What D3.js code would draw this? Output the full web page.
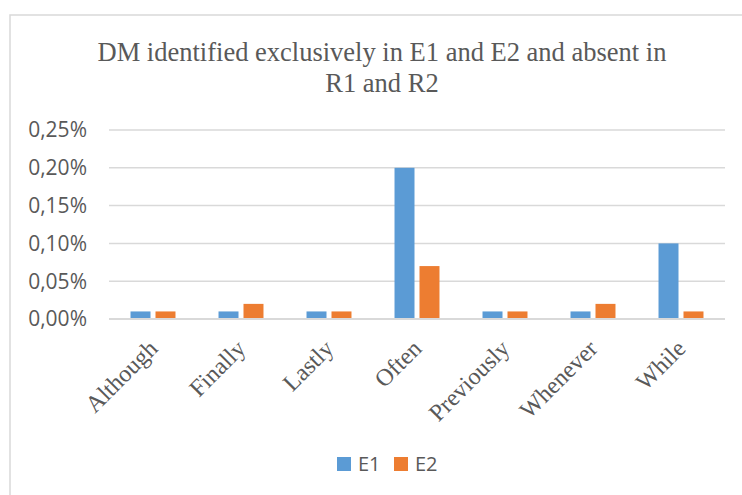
<!DOCTYPE html>
<html>
<head>
<meta charset="utf-8">
<script src="https://cdn.jsdelivr.net/npm/d3@7"></script>
<style>
  body { margin: 0; background: #fff; }
  svg { display: block; }
  .serif { font-family: "Liberation Serif", Tinos, "Times New Roman", Times, "DejaVu Serif", serif; }
  .sans { font-family: "Open Sans", "Liberation Sans", sans-serif; }
</style>
</head>
<body>
<svg id="chart" width="742" height="495"></svg>
<script>
// data (values in %)
const categories = ['Although', 'Finally', 'Lastly', 'Often', 'Previously', 'Whenever', 'While'];
const seriesNames = ['E1', 'E2'];
const valuesE1 = [0.01, 0.01, 0.01, 0.20, 0.01, 0.01, 0.10];
const valuesE2 = [0.01, 0.02, 0.01, 0.07, 0.01, 0.02, 0.01];
const yTicks = [0, 0.05, 0.10, 0.15, 0.20, 0.25];
const titleLines = ['DM identified exclusively in E1 and E2 and absent in', 'R1 and R2'];

const colors = { E1: '#5b9bd5', E2: '#ed7d31' };
const plot = { left: 109, right: 725, top: 130, bottom: 319 };

const svg = d3.select('#chart');

// outer chart frame (right edge runs off the page)
svg.append('rect')
  .attr('x', 10)
  .attr('y', 15)
  .attr('width', 760)
  .attr('height', 500)
  .attr('fill', '#fff')
  .attr('stroke', '#d9d9d9')
  .attr('stroke-width', 1.5);

// title
svg.append('text')
  .attr('class', 'serif')
  .attr('text-anchor', 'middle')
  .style('font-size', '26.5px')
  .attr('fill', '#595959')
  .selectAll('tspan')
  .data(titleLines)
  .enter()
    .append('tspan')
    .attr('x', 382)
    .attr('y', (d, i) => 61 + i * 31)
    .text(d => d);

// scales
const x = d3.scaleBand()
  .domain(categories)
  .range([plot.left, plot.right])
  .paddingInner(0.489)
  .paddingOuter(0.2445);

const xSeries = d3.scaleBand()
  .domain(seriesNames)
  .range([0, x.bandwidth()])
  .paddingInner(0.2);

const y = d3.scaleLinear()
  .domain([0, 0.25])
  .range([plot.bottom, plot.top]);

// gridlines
svg.append('g')
  .selectAll('line')
  .data(yTicks)
  .enter()
    .append('line')
    .attr('x1', plot.left)
    .attr('x2', plot.right)
    .attr('y1', d => y(d))
    .attr('y2', d => y(d))
    .attr('stroke', '#d9d9d9')
    .attr('stroke-width', d => (d === 0 ? 2 : 1.5));

// y axis labels
const fmt = d => d3.format('.2f')(d).replace('.', ',') + '%';
svg.append('g')
  .selectAll('text')
  .data(yTicks)
  .enter()
    .append('text')
    .attr('class', 'sans')
    .attr('x', 87)
    .attr('y', d => y(d))
    .attr('dy', '0.35em')
    .attr('text-anchor', 'end')
    .style('font-size', '21px')
    .attr('fill', '#595959')
    .text(fmt);

// bars
const rows = categories.map((c, i) => ({ cat: c, E1: valuesE1[i], E2: valuesE2[i] }));
const groups = svg.append('g')
  .selectAll('g')
  .data(rows)
  .enter()
    .append('g')
    .attr('transform', d => `translate(${x(d.cat)},0)`);

groups.selectAll('rect')
  .data(d => seriesNames.map(s => ({ s, v: d[s] })))
  .enter()
    .append('rect')
    .attr('x', d => xSeries(d.s))
    .attr('width', xSeries.bandwidth())
    .attr('y', d => y(d.v))
    .attr('height', d => y(0) - y(d.v) - 1)
    .attr('fill', d => colors[d.s]);

// x labels, rotated
svg.append('g')
  .selectAll('text')
  .data(categories)
  .enter()
    .append('text')
    .attr('class', 'serif')
    .attr('text-anchor', 'end')
    .attr('transform', d => `translate(${x(d) + x.bandwidth() / 2 + 6},${plot.bottom + 31}) rotate(-45)`)
    .style('font-size', '24px')
    .attr('fill', '#595959')
    .text(d => d);

// legend
const legend = svg.append('g')
  .selectAll('g')
  .data(seriesNames)
  .enter()
    .append('g')
    .attr('transform', (d, i) => `translate(${337 + i * 57},457)`);

legend.append('rect')
  .attr('width', 14)
  .attr('height', 14)
  .attr('fill', d => colors[d]);

legend.append('text')
  .attr('class', 'sans')
  .attr('x', 21)
  .attr('y', 7)
  .attr('dy', '0.35em')
  .style('font-size', '20px')
  .attr('fill', '#595959')
  .text(d => d);
</script>
</body>
</html>
